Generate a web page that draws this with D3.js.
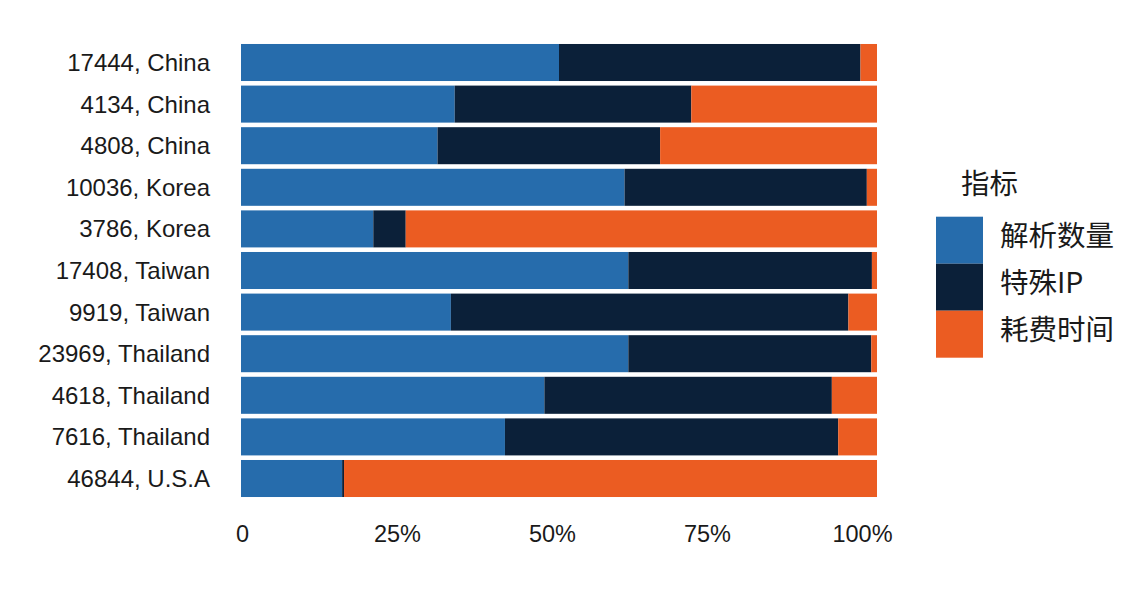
<!DOCTYPE html>
<html>
<head>
<meta charset="utf-8">
<script src="https://cdn.jsdelivr.net/npm/d3@7"></script>
<style>
  html, body { margin: 0; padding: 0; background: #fff; }
  svg { display: block; }
</style>
</head>
<body>
<svg id="chart" width="1148" height="590"></svg>
<script>
// ---- data (percent shares) ----
const categories = ["17444, China", "4134, China", "4808, China", "10036, Korea", "3786, Korea",
  "17408, Taiwan", "9919, Taiwan", "23969, Thailand", "4618, Thailand", "7616, Thailand", "46844, U.S.A"];
const seriesNames = ["解析数量", "特殊IP", "耗费时间"];
const parseCount = [50.0, 33.6, 30.9, 60.3, 20.8, 60.9, 33.0, 60.9, 47.7, 41.5, 15.9];
const specialIP  = [47.4, 37.2, 35.0, 38.1, 5.1, 38.3, 62.5, 38.2, 45.2, 52.4, 0.3];
const timeSpent  = [2.6, 29.2, 34.1, 1.6, 74.1, 0.8, 4.5, 0.9, 7.1, 6.1, 83.8];
const tickValues = [0, 0.25, 0.5, 0.75, 1];
const tickLabels = ["0", "25%", "50%", "75%", "100%"];
const legendTitle = "指标";
const colors = ["#266cac", "#0b2039", "#eb5c22"];

// ---- build table ----
const table = categories.map((c, i) => {
  const total = parseCount[i] + specialIP[i] + timeSpent[i];
  return { cat: c, s0: parseCount[i] / total, s1: specialIP[i] / total, s2: timeSpent[i] / total };
});
const stack = d3.stack().keys(["s0", "s1", "s2"]);
const layers = stack(table);

const svg = d3.select("#chart");
svg.append("rect").attr("width", 1148).attr("height", 590).attr("fill", "#fff");

const x = d3.scaleLinear().domain([0, 1]).range([241, 877]);
const xLabel = d3.scaleLinear().domain([0, 1]).range([242, 862]);
const y = d3.scaleBand().domain(categories).range([41.7, 499.3]).paddingInner(0.11).paddingOuter(0.055);
const color = d3.scaleOrdinal().domain(["s0", "s1", "s2"]).range(colors);

const latin = "'Liberation Sans', Arial, Helvetica, sans-serif";
const cjk = "'Noto Sans CJK SC', 'Liberation Sans', sans-serif";

svg.append("g").selectAll("g").data(layers).join("g")
  .attr("fill", d => color(d.key))
  .selectAll("rect").data(d => d).join("rect")
  .attr("x", d => x(d[0]))
  .attr("width", d => Math.max(0, x(d[1]) - x(d[0])))
  .attr("y", d => y(d.data.cat))
  .attr("height", y.bandwidth());

// y axis
const yAxis = svg.append("g").attr("transform", "translate(210,0)")
  .call(d3.axisLeft(y).tickSize(0).tickPadding(0));
yAxis.select(".domain").remove();
yAxis.selectAll("text").attr("font-family", latin).attr("font-size", 24).attr("fill", "#1a1a1a")
  .attr("dy", "0.35em");

// x axis
const xAxis = svg.append("g").attr("transform", "translate(0,525)")
  .call(d3.axisBottom(xLabel).tickValues(tickValues).tickFormat((d, i) => tickLabels[i]).tickSize(0).tickPadding(0));
xAxis.select(".domain").remove();
xAxis.selectAll("text").attr("font-family", latin).attr("font-size", 23.5).attr("fill", "#1a1a1a")
  .attr("dy", "0.71em");

// legend
const lg = svg.append("g");
lg.append("text").attr("x", 961).attr("y", 194).text(legendTitle)
  .attr("font-family", cjk).attr("font-size", 28.5).attr("fill", "#1a1a1a");
const keyScale = d3.scaleBand().domain(seriesNames).range([216.7, 357.7]);
lg.selectAll("rect.key").data(seriesNames).join("rect").attr("class", "key")
  .attr("x", 936).attr("y", d => keyScale(d)).attr("width", 47).attr("height", keyScale.bandwidth())
  .attr("fill", (d, i) => colors[i]);
lg.selectAll("text.lab").data(seriesNames).join("text").attr("class", "lab")
  .attr("x", 1000).attr("y", d => keyScale(d) + keyScale.bandwidth() / 2 - 4)
  .attr("dy", "0.36em")
  .attr("font-family", cjk).attr("font-size", 28.5).attr("fill", "#1a1a1a")
  .text(d => d);
</script>
</body>
</html>
